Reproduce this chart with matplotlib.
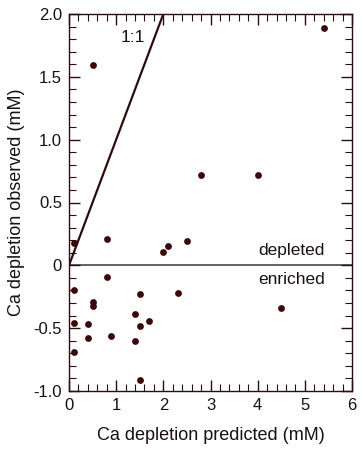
import numpy as np
import matplotlib.pyplot as plt
from matplotlib.ticker import MultipleLocator, FixedLocator

# Ca depletion predicted vs observed (mM)
predicted = [0.5, 2.8, 4.0, 5.4, 0.1, 0.8, 2.0, 2.1, 2.5,
             0.8, 0.1, 0.5, 0.5, 1.5, 2.3, 4.5, 1.4, 1.7, 1.5,
             0.1, 0.4, 0.9, 0.4, 1.4, 0.1, 1.5]
observed = [1.59, 0.72, 0.72, 1.89, 0.18, 0.21, 0.11, 0.15, 0.19,
            -0.09, -0.20, -0.29, -0.32, -0.23, -0.22, -0.34, -0.39, -0.44, -0.48,
            -0.46, -0.47, -0.56, -0.58, -0.60, -0.69, -0.91]
one_to_one = [0, 2]

ytick_vals = [-1.0, -0.5, 0, 0.5, 1.0, 1.5, 2.0]
ytick_labels = ['-1.0', '-0.5', '0', '0.5', '1.0', '1.5', '2.0']

plt.rcParams['font.family'] = ['Liberation Sans', 'DejaVu Sans']
dark = '#2b0d0d'
txt = '#1a1010'

fig = plt.figure(figsize=(3.63, 4.5), dpi=100)
ax = fig.add_axes([0.19, 0.131, 0.78, 0.838])

ax.axhline(0, color='#555555', linewidth=1.3, zorder=1)
ax.plot(one_to_one, one_to_one, color=dark, linewidth=1.6, zorder=2)
ax.scatter(predicted, observed, s=24, color='#3a0a0a', zorder=3, linewidths=0)

ax.text(1.36, 1.81, '1:1', fontsize=12.5, color=txt, ha='center', va='center')
ax.text(4.72, 0.115, 'depleted', fontsize=12.5, color=txt, ha='center', va='center')
ax.text(4.72, -0.11, 'enriched', fontsize=12.5, color=txt, ha='center', va='center')

ax.set_xlim(0, 6)
ax.set_ylim(-1.0, 2.0)
ax.xaxis.set_major_locator(MultipleLocator(1))
ax.xaxis.set_minor_locator(MultipleLocator(0.2))
ax.yaxis.set_major_locator(FixedLocator(ytick_vals))
ax.set_yticklabels(ytick_labels)
ax.yaxis.set_minor_locator(MultipleLocator(0.1))
ax.tick_params(which='both', direction='in', top=True, right=True,
               colors=dark, labelcolor=txt, labelsize=12)
ax.tick_params(which='major', length=8, width=1, pad=5)
ax.tick_params(which='minor', length=5, width=0.8)
for s in ax.spines.values():
    s.set_color(dark)
    s.set_linewidth(1)

ax.set_xlabel('Ca depletion predicted (mM)', fontsize=13, color=txt, labelpad=10)
ax.set_ylabel('Ca depletion observed (mM)', fontsize=13, color=txt, labelpad=6)

fig.savefig('out.png', dpi=100)
